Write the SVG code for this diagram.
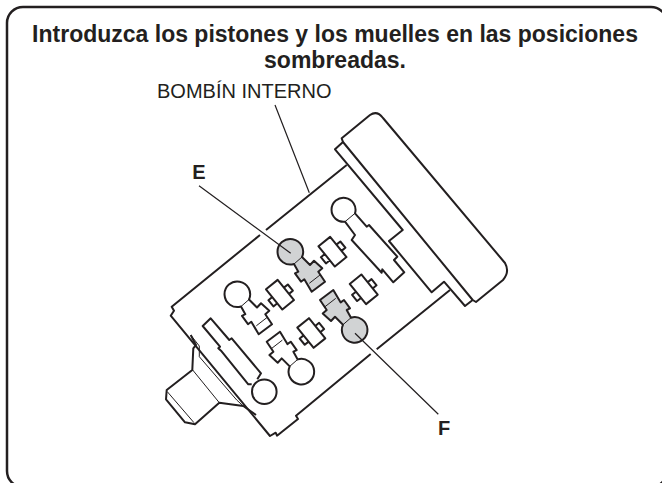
<svg xmlns="http://www.w3.org/2000/svg" width="662" height="483" viewBox="0 0 662 483">
<style>
.o{fill:none;stroke:#231f20;stroke-width:2;stroke-linejoin:round}
.g{fill:#d1d3d4}
.t{fill:none;stroke:#231f20;stroke-width:1}
.l{fill:none;stroke:#231f20;stroke-width:1.2}
text{font-family:"Liberation Sans",Arial,sans-serif;fill:#231f20;font-size:20px}
.b{font-weight:bold}
.h{font-size:23px}
</style>
<defs>
<g id="spring"><path class="o" d="M-13-7.500H13V7.500H-13ZM-3-7.500V-12.500H5V-7.500M-3 7.500V12.500H5V7.500"/></g>
<path id="pp" d="M302 257A12.800 12.800 0 1 0 294 264L298.300 271.700L295 273.300L301 281.700L304.300 279.300L311.700 291.700L325 281.700L318.300 271.700L322.300 268.300L314 260.700L310 265Z"/>
<path id="pt" class="t" d="M294 264L302 257M309.300 283.300L320 275"/>
</defs>
<rect id="frame" x="7" y="7" width="660" height="480" rx="16" fill="#fff" stroke="#231f20" stroke-width="2.500"/>
<g id="title">
<text class="b h" x="335" y="42" text-anchor="middle">Introduzca los pistones y los muelles en las posiciones</text>
<text class="b h" x="335" y="68" text-anchor="middle">sombreadas.</text>
<text x="157" y="98">BOMBÍN INTERNO</text>
</g>
<g id="body">
<path class="o" d="M341.700 138.300L370 115Q377 110 383 118L505 263Q510 272 503 280L476 302L472.700 300L343 142Z"/>
<path class="o" d="M343 142L335 149.300L402.700 230L389 241L431.700 292.300L444 281.700L465 306L472.700 300"/>
<path class="o" d="M346.700 165L266 230M260 235L171.700 306.700L174 310.700L170.700 315.700L270 436L275.700 432.700L277 435.700L298 419L296 415.700L370.700 354M376.700 349.300L450 290"/>
<path class="o" d="M190.700 335L196 345L193.300 348.300L192.300 370L166.700 390L166 399.300L185 422.300L195 424.300L219.300 402.700L243.300 406L256 415"/>
<path class="t" d="M190.700 335L199.300 346L199.300 356.700L236.700 400L243.300 406M167.300 391.700L194 422.700M192.700 370L219.300 402.700"/>
</g>
<g id="spring-1"><use href="#spring" transform="translate(332.500 251.700) rotate(51)"/></g>
<g id="spring-2"><use href="#spring" transform="translate(363.700 289.300) rotate(51)"/></g>
<g id="spring-3"><use href="#spring" transform="translate(280 294.700) rotate(51)"/></g>
<g id="spring-4"><use href="#spring" transform="translate(311.300 333) rotate(51)"/></g>
<g id="piston-E"><use href="#pp" class="o g"/><use href="#pt"/></g>
<g id="piston-F" transform="translate(645 581.700) rotate(180)"><use href="#pp" class="o g"/><use href="#pt"/></g>
<g id="piston-3" transform="translate(-53 42.500)"><use href="#pp" class="o"/><use href="#pt"/></g>
<g id="piston-4" transform="translate(591.700 623.400) rotate(180)"><use href="#pp" class="o"/><use href="#pt"/></g>
<g id="piston-long-1">
<path class="o" d="M345 221.700A12 12 0 1 1 355 213.300L366.700 226.700L369 225L397.300 256.700L394 260L404.300 272.300L393.300 282.300L382.300 269.300L381.700 272.700L351.700 240L355 235Z"/>
<path class="t" d="M345 221.700L355 213.300"/>
</g>
<g id="piston-long-2">
<path class="o" d="M257.300 379.300L261 373.300L231.700 338.300L229.300 340L210.700 318.300L202.700 326L220 346.700L218.300 348.300L221 350.700L248.300 384.300L251.700 384.300"/>
<circle class="o" cx="264.300" cy="391.700" r="12.300"/>
</g>
<g id="connectors">
<path class="l" d="M275 105L309.300 192.700M199 185.700L290.700 253.300M355 333.300L438.300 414.300"/>
</g>
<g id="labels">
<text class="b" x="199" y="179" text-anchor="middle">E</text>
<text class="b" x="444" y="435" text-anchor="middle">F</text>
</g>
</svg>
